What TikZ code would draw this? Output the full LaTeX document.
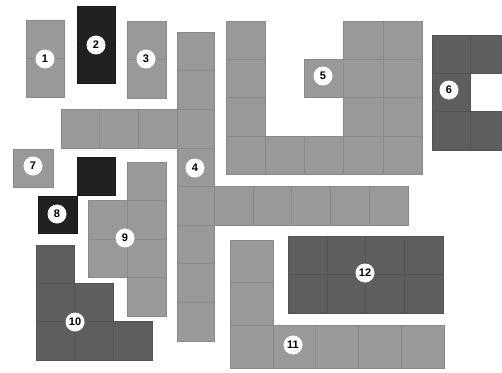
\documentclass[tikz,border=0pt]{standalone}
\usepackage{fontspec}
\setmainfont{Liberation Sans}
\definecolor{lg}{gray}{0.60}
\definecolor{lgl}{gray}{0.54}
\definecolor{dg}{gray}{0.37}
\definecolor{dgl}{gray}{0.33}
\definecolor{bk}{gray}{0.13}
\definecolor{bkl}{gray}{0.10}
\tikzset{
 lcell/.style={fill=lg, draw=lgl, line width=0.45pt},
 dcell/.style={fill=dg, draw=dgl, line width=0.45pt},
 bcell/.style={fill=bk, draw=bkl, line width=0.45pt},
 lab/.style={circle, fill=white, inner sep=0pt, minimum size=19pt, font=\bfseries\fontsize{11}{12}\selectfont},
}
\newcommand\piece[6]{\foreach \c/\r in {#6}{\draw[#1] ({#2+#4*\c},{#3+#5*\r}) rectangle ++(#4,#5);}}
\begin{document}
\begin{tikzpicture}[x=1pt,y=-1pt]
\useasboundingbox (0,0) rectangle (502,372);
\clip (0,0) rectangle (502,372);
% piece 1,2,3
\piece{lcell}{26}{20}{38}{38.5}{0/0,0/1}
\piece{bcell}{77}{6}{38}{38.5}{0/0,0/1}
\piece{lcell}{127}{21}{39}{38.5}{0/0,0/1}
% piece 4
\piece{lcell}{177}{32}{37}{38.6}{0/0,0/1,0/2,0/3,0/4,0/5,0/6,0/7}
\piece{lcell}{61}{109}{38.7}{39}{0/0,1/0,2/0}
\piece{lcell}{214}{186}{38.8}{39}{0/0,1/0,2/0,3/0,4/0}
% piece 5
\piece{lcell}{226}{21}{39.2}{38.25}{0/0,0/1,0/2,0/3,1/3,2/3,3/0,3/1,3/2,3/3,4/0,4/1,4/2,4/3,2/1}
% piece 6
\piece{dcell}{432}{35}{38}{38.3}{0/0,0/1,0/2,1/0,1/2}
% piece 7
\piece{lcell}{13}{149}{40}{38}{0/0}
% piece 8 (black)
\piece{bcell}{77}{157}{38}{38}{0/0}
\piece{bcell}{38}{196}{39}{37}{0/0}
% piece 9
\piece{lcell}{88}{162}{39}{38.5}{1/0,1/1,1/2,1/3,0/1,0/2}
% piece 10
\piece{dcell}{36}{245}{38.7}{38.3}{0/0,0/1,0/2,1/1,1/2,2/2}
% piece 11
\piece{lcell}{230}{240}{42.8}{42.7}{0/0,0/1,0/2,1/2,2/2,3/2,4/2}
% piece 12
\piece{dcell}{288}{236}{38.75}{38.5}{0/0,1/0,2/0,3/0,0/1,1/1,2/1,3/1}
% labels
\node[lab] (l1) at (45,59) {1};
\node[lab] (l2) at (96,45) {2};
\node[lab] (l3) at (146,59) {3};
\node[lab] (l4) at (195,168) {4};
\node[lab] (l5) at (323,76) {5};
\node[lab] (l6) at (449,90) {6};
\node[lab] (l7) at (33,166) {7};
\node[lab] (l8) at (57,214) {8};
\node[lab] (l9) at (125,238) {9};
\node[lab] (l10) at (75,322) {10};
\node[lab] (l11) at (293,345) {11};
\node[lab] (l12) at (365,273) {12};
\end{tikzpicture}
\end{document}
